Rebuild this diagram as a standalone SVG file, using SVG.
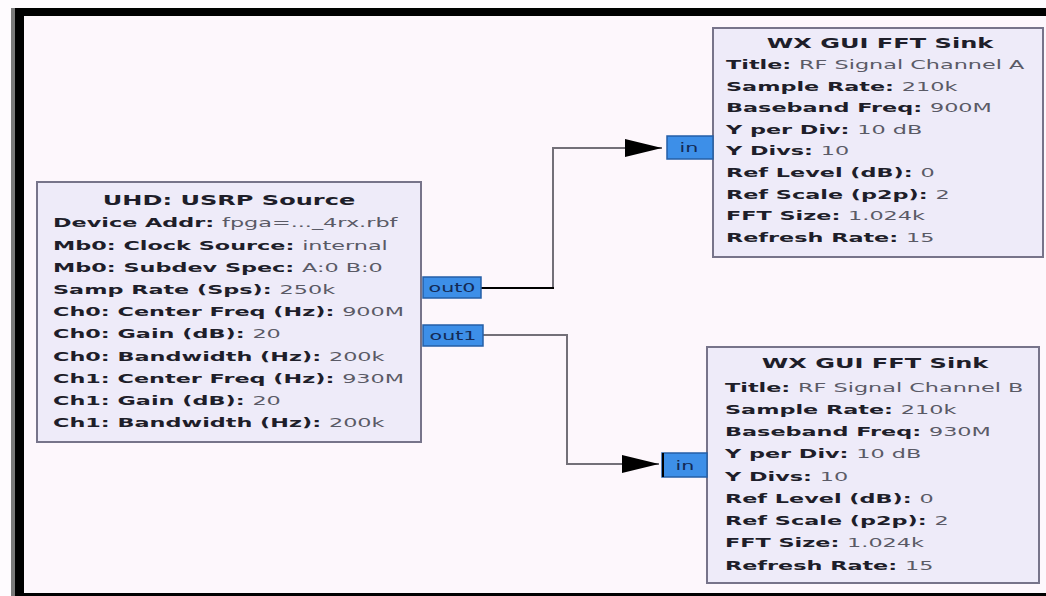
<svg xmlns="http://www.w3.org/2000/svg" width="1046" height="596" viewBox="0 0 1046 596">
<style>
.node{fill:#eeebf9;stroke:#77748a;stroke-width:2}
.t{font-family:"DejaVu Sans","Liberation Sans",sans-serif;font-size:13px;font-weight:bold;fill:#1e1e2a}
.h{font-family:"DejaVu Sans","Liberation Sans",sans-serif;font-size:14px;font-weight:bold;fill:#1e1e2a;text-anchor:middle}
.v{font-weight:normal;fill:#5a5a66}
.port{fill:#3d8fe8;stroke:#255fa6;stroke-width:1.5}
.pt{font-family:"DejaVu Sans","Liberation Sans",sans-serif;font-size:12px;fill:#132a55;text-anchor:middle}
.wire{fill:none;stroke:#737078;stroke-width:2}
</style>
<defs>
<marker id="arr" markerUnits="userSpaceOnUse" markerWidth="38" markerHeight="20" refX="37" refY="9" orient="auto">
<polygon points="0,0 37,9 0,18" fill="#000"/>
</marker>
</defs>
<rect x="0" y="0" width="1046" height="596" fill="#fefbfe"/>
<g id="frame">
<rect x="24" y="16" width="1022" height="577" fill="#fdf7fc"/>
<rect x="11" y="8" width="1035" height="8" fill="#000"/>
<rect x="11" y="8" width="4" height="588" fill="#7a7a7a"/>
<rect x="15" y="8" width="9" height="588" fill="#000"/>
<rect x="24" y="593" width="1022" height="3" fill="#000"/>
</g>
<g id="connectors">
<path class="wire" d="M553 288 V148 H662" marker-end="url(#arr)"/>
<path d="M481 288 H554" stroke="#000" stroke-width="2" fill="none"/>
<path class="wire" d="M483 335 H567 V464 H659" marker-end="url(#arr)"/>
</g>
<g id="usrp_source">
<rect class="node" x="37" y="182" width="384" height="260"/>
<text class="h" transform="matrix(1.72 0 0 1 229 0)" x="0" y="205">UHD: USRP Source</text>
<g transform="matrix(1.72 0 0 1 53 0)">
<text class="t" x="0" y="227.5">Device Addr: <tspan class="v">fpga=..._4rx.rbf</tspan></text>
<text class="t" x="0" y="249.7">Mb0: Clock Source: <tspan class="v">internal</tspan></text>
<text class="t" x="0" y="271.9">Mb0: Subdev Spec: <tspan class="v">A:0 B:0</tspan></text>
<text class="t" x="0" y="294.1">Samp Rate (Sps): <tspan class="v">250k</tspan></text>
<text class="t" x="0" y="316.3">Ch0: Center Freq (Hz): <tspan class="v">900M</tspan></text>
<text class="t" x="0" y="338.5">Ch0: Gain (dB): <tspan class="v">20</tspan></text>
<text class="t" x="0" y="360.7">Ch0: Bandwidth (Hz): <tspan class="v">200k</tspan></text>
<text class="t" x="0" y="382.9">Ch1: Center Freq (Hz): <tspan class="v">930M</tspan></text>
<text class="t" x="0" y="405.1">Ch1: Gain (dB): <tspan class="v">20</tspan></text>
<text class="t" x="0" y="427.3">Ch1: Bandwidth (Hz): <tspan class="v">200k</tspan></text>
</g>
<rect class="port" x="423" y="277" width="58" height="21"/>
<text class="pt" transform="matrix(1.72 0 0 1 452 0)" x="0" y="292">out0</text>
<rect class="port" x="423" y="325" width="60" height="21"/>
<text class="pt" transform="matrix(1.72 0 0 1 453 0)" x="0" y="340">out1</text>
</g>
<g id="fft_sink_a">
<rect class="node" x="713" y="28" width="330" height="229"/>
<text class="h" transform="matrix(1.72 0 0 1 880 0)" x="0" y="48">WX GUI FFT Sink</text>
<g transform="matrix(1.72 0 0 1 726 0)">
<text class="t" x="0" y="69">Title: <tspan class="v">RF Signal Channel A</tspan></text>
<text class="t" x="0" y="90.6">Sample Rate: <tspan class="v">210k</tspan></text>
<text class="t" x="0" y="112.2">Baseband Freq: <tspan class="v">900M</tspan></text>
<text class="t" x="0" y="133.8">Y per Div: <tspan class="v">10 dB</tspan></text>
<text class="t" x="0" y="155.4">Y Divs: <tspan class="v">10</tspan></text>
<text class="t" x="0" y="177">Ref Level (dB): <tspan class="v">0</tspan></text>
<text class="t" x="0" y="198.6">Ref Scale (p2p): <tspan class="v">2</tspan></text>
<text class="t" x="0" y="220.2">FFT Size: <tspan class="v">1.024k</tspan></text>
<text class="t" x="0" y="241.8">Refresh Rate: <tspan class="v">15</tspan></text>
</g>
<rect class="port" x="667" y="136" width="46" height="23"/>
<text class="pt" transform="matrix(1.72 0 0 1 689 0)" x="0" y="152">in</text>
</g>
<g id="fft_sink_b">
<rect class="node" x="707" y="347" width="332" height="236"/>
<text class="h" transform="matrix(1.72 0 0 1 875 0)" x="0" y="368">WX GUI FFT Sink</text>
<g transform="matrix(1.72 0 0 1 725 0)">
<text class="t" x="0" y="391.6">Title: <tspan class="v">RF Signal Channel B</tspan></text>
<text class="t" x="0" y="413.9">Sample Rate: <tspan class="v">210k</tspan></text>
<text class="t" x="0" y="436.1">Baseband Freq: <tspan class="v">930M</tspan></text>
<text class="t" x="0" y="458.4">Y per Div: <tspan class="v">10 dB</tspan></text>
<text class="t" x="0" y="480.6">Y Divs: <tspan class="v">10</tspan></text>
<text class="t" x="0" y="502.9">Ref Level (dB): <tspan class="v">0</tspan></text>
<text class="t" x="0" y="525.1">Ref Scale (p2p): <tspan class="v">2</tspan></text>
<text class="t" x="0" y="547.4">FFT Size: <tspan class="v">1.024k</tspan></text>
<text class="t" x="0" y="569.6">Refresh Rate: <tspan class="v">15</tspan></text>
</g>
<rect class="port" x="662" y="453" width="45" height="24"/>
<line x1="663" y1="453" x2="663" y2="477" stroke="#000" stroke-width="2"/>
<text class="pt" transform="matrix(1.72 0 0 1 685 0)" x="0" y="470">in</text>
</g>
</svg>
